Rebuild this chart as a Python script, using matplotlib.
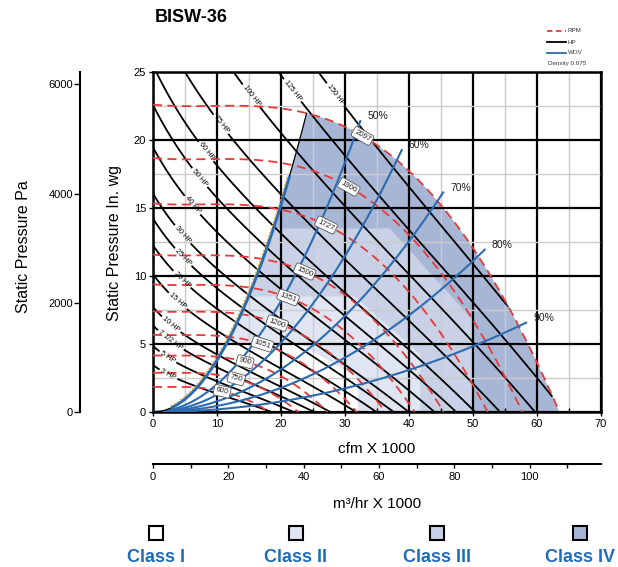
import numpy as np
import matplotlib.pyplot as plt
from matplotlib.lines import Line2D
from matplotlib.patches import Rectangle

plt.rcParams['font.family'] = ['Liberation Sans', 'DejaVu Sans']

# ---- data ----
rpm_values = [2097, 1906, 1727, 1500, 1351, 1200, 1051, 900, 750, 600]
rpm_label_pos = [(33.1, 20.6), (30.8, 16.7), (27.2, 13.9), (24.0, 10.7), (21.4, 8.75),
                 (19.4, 6.5), (17.2, 5.1), (14.4, 3.8), (13.1, 2.6), (10.8, 1.5)]

hp_values = [3, 5, 7.5, 10, 15, 20, 25, 30, 40, 50, 60, 75, 100, 125, 150]
hp_labels = ['3 HP', '5 HP', '7 1/2 HP', '10 HP', '15 HP', '20 HP', '25 HP', '30 HP',
             '40 HP', '50 HP', '60 HP', '75 HP', '100 HP', '125 HP', '150 HP']
hp_label_pos = [(2.2, 2.6), (2.3, 4.0), (3.0, 5.4), (3.4, 6.8), (3.9, 8.2), (4.5, 9.7),
                (5.0, 11.5), (5.5, 13.4), (6.6, 15.4), (7.7, 17.4), (8.6, 19.3),
                (10.8, 21.25), (15.2, 23.2), (21.4, 23.5), (28.7, 23.4)]

wov_values = [50, 60, 70, 80, 90]

# outer curve (2097 rpm): cfm x1000 vs in. wg, and bhp along it
base_cfm = [0, 10, 20, 25, 30, 35, 40, 45, 50, 55, 60, 63.5]
base_sp = [22.6, 22.55, 22.2, 21.9, 21.1, 19.5, 17.8, 15.1, 12.1, 8.2, 3.6, 0.0]
base_bhp = [50, 80, 110, 125, 140, 153, 159, 162, 160, 152, 136, 120]
surge_point = 24.0  # cfm x1000 on the outer curve where the left edge starts

# class limit points (cfm x1000, in. wg)
class_limits = {
    'III': [(37.0, 13.5), (50.0, 6.75)],
    'II': [(31.5, 8.5), (41.75, 4.25)],
    'I': [(23.0, 5.0), (32.0, 2.5)],
}
class_colors = {'I': '#ffffff', 'II': '#dfe5f1', 'III': '#c8d1e6', 'IV': '#a8b6d5'}

RED = '#e8383a'
BLUE = '#2b6cb0'

# ---- smooth fan curve model ----
c_sp = np.polyfit(base_cfm, base_sp, 5)
c_hp = np.polyfit(base_cfm, base_bhp, 5)
q_end = base_cfm[-1]
end_slope = np.polyval(np.polyder(c_sp), q_end)


def sp0(q):
    q = np.asarray(q, dtype=float)
    inside = np.polyval(c_sp, np.clip(q, 0, q_end))
    return np.where(q > q_end, end_slope * (q - q_end), inside)


def hp0(q):
    return np.polyval(c_hp, np.clip(q, 0, q_end))


Q = np.linspace(0, 70, 701)
P = np.linspace(0, 25, 501)
QQ, PP = np.meshgrid(Q, P)
lo = np.full_like(QQ, 1e-4)
hi = np.full_like(QQ, 2.0)
for _ in range(45):
    mid = 0.5 * (lo + hi)
    g = mid ** 2 * sp0(QQ / mid) - PP
    lo = np.where(g < 0, mid, lo)
    hi = np.where(g >= 0, mid, hi)
ratio = 0.5 * (lo + hi)
bhp = ratio ** 3 * hp0(QQ / ratio)
bhp[(ratio > 1.0) & (QQ > 33)] = np.nan

# ---- figure ----
fig = plt.figure(figsize=(6.18, 5.67), dpi=100)
W, H = 618, 567
ax = fig.add_axes([153 / W, 1 - 412 / H, 448 / W, 340 / H])
ax.set_xlim(0, 70)
ax.set_ylim(0, 25)

# class areas
ks = sp0(surge_point) / surge_point ** 2
t = np.linspace(0, 1, 80)
surge_q = t * surge_point
surge_p = ks * surge_q ** 2
qt = np.linspace(surge_point, q_end, 80)
env = list(zip(surge_q, surge_p)) + list(zip(qt, sp0(qt))) + [(0, 0)]
ax.fill(*zip(*env), color=class_colors['IV'], lw=0, zorder=0.1)
for name in ['III', 'II', 'I']:
    (q1, p1), (q2, p2) = class_limits[name]
    m = surge_p < p1
    poly = (list(zip(surge_q[m], surge_p[m])) + [(np.sqrt(p1 / ks), p1), (q1, p1), (q2, p2),
                                                 (q2, 0), (0, 0)])
    ax.fill(*zip(*poly), color=class_colors[name], lw=0, zorder=0.2)

# grid
ax.set_xticks(np.arange(0, 71, 10))
ax.set_yticks(np.arange(0, 26, 5))
ax.set_xticks(np.arange(5, 70, 5), minor=True)
ax.set_yticks(np.arange(2.5, 25, 2.5), minor=True)
ax.set_axisbelow(True)
ax.grid(which='minor', color='#cbcbcb', lw=1.0)
ax.grid(which='major', color='black', lw=1.6)

# rpm curves
rpm_levels = sorted(np.array(rpm_values) / rpm_values[0])
cs_rpm = ax.contour(QQ, PP, ratio, levels=rpm_levels, colors=RED, linewidths=1.3,
                    linestyles=[(0, (5, 3))], zorder=3)
# hp lines
cs_hp = ax.contour(QQ, PP, bhp, levels=hp_values, colors='black', linewidths=1.3, zorder=2.5)


def on_line(cs, level_index, xy):
    v = cs.get_paths()[level_index].vertices
    d = (v[:, 0] - xy[0]) ** 2 + ((v[:, 1] - xy[1]) * 2.1) ** 2
    return tuple(v[np.argmin(d)])


hp_pos = [on_line(cs_hp, i, p) for i, p in enumerate(hp_label_pos)]
txt = ax.clabel(cs_hp, manual=hp_pos, inline=True, inline_spacing=2, fontsize=5.2,
                fmt=dict(zip(cs_hp.levels, hp_labels)))

rpm_sorted = sorted(zip(np.array(rpm_values) / rpm_values[0], rpm_values, rpm_label_pos))
rpm_pos = [on_line(cs_rpm, i, r[2]) for i, r in enumerate(rpm_sorted)]
rtxt = ax.clabel(cs_rpm, manual=rpm_pos, inline=True, inline_spacing=3, fontsize=5.6,
                 fmt={lv: str(n) for lv, n, _ in rpm_sorted})
for tx in rtxt:
    tx.set_color('#222222')
    tx.set_bbox(dict(boxstyle='round,pad=0.25', fc='white', ec='#555555', lw=0.6))
    tx.set_zorder(6)

# wov lines
for p in wov_values:
    qp = p / 100 * q_end
    k = sp0(qp) / qp ** 2
    qq = np.linspace(0, qp * 1.02, 100)
    ax.plot(qq, k * qq ** 2, color=BLUE, lw=1.5, zorder=4)
    ax.text(qq[-1] + 1.1, k * qq[-1] ** 2 + 0.35, f'{p}%', fontsize=7.5, va='center',
            ha='left', color='#222222', zorder=6)

# left edge / surge line
ax.plot(surge_q, surge_p, color='black', lw=0.9, zorder=4)
m = (surge_q > 3) & (surge_q < 21.5)
ax.plot(surge_q[m], surge_p[m], color=BLUE, lw=2.2, zorder=4)
ax.plot(surge_q[m] - 0.25, surge_p[m] + 0.1, color='#f2a51f', lw=1.1,
        linestyle=(0, (1, 1.5)), zorder=4)

for s in ax.spines.values():
    s.set_linewidth(1.8)
ax.tick_params(which='major', direction='out', length=3, width=1, labelsize=8, pad=2)
ax.tick_params(which='minor', length=0)
ax.tick_params(axis='x', which='minor', direction='in', length=3, width=1)

# pa axis
axp = fig.add_axes([80 / W, 1 - 412 / H, 0.0001, 340 / H])
axp.set_ylim(0, 25 * 249.09)
axp.set_yticks([0, 2000, 4000, 6000])
axp.set_xticks([])
for k_ in ['top', 'right', 'bottom']:
    axp.spines[k_].set_visible(False)
axp.spines['left'].set_linewidth(1.5)
axp.tick_params(direction='out', length=4, width=1, labelsize=8, pad=1)
axp.patch.set_visible(False)

# m3/hr axis
axm = fig.add_axes([153 / W, 1 - 464 / H, 448 / W, 0.0001])
axm.set_xlim(0, 70 * 1.699)
axm.set_xticks(np.arange(0, 101, 20))
axm.set_xticks(np.arange(10, 119, 20), minor=True)
axm.set_yticks([])
for k_ in ['top', 'right', 'left']:
    axm.spines[k_].set_visible(False)
axm.spines['bottom'].set_linewidth(1.5)
axm.tick_params(which='both', direction='out', length=3, width=1, labelsize=8, pad=3)
axm.patch.set_visible(False)

fig.text(155 / W, 1 - 18 / H, 'BISW-36', fontsize=13, fontweight='bold', va='center')
fig.text(24 / W, 1 - 247 / H, 'Static Pressure Pa', rotation=90, fontsize=11.5,
         va='center', ha='center')
fig.text(114 / W, 1 - 243 / H, 'Static Pressure In. wg', rotation=90, fontsize=11.5,
         va='center', ha='center')
fig.text(377 / W, 1 - 449 / H, 'cfm X 1000', fontsize=11, ha='center', va='center')
fig.text(377 / W, 1 - 504 / H, 'm³/hr X 1000', fontsize=11, ha='center', va='center')

# small legend
leg_items = [('RPM', RED, (0, (3, 2))), ('HP', 'black', '-'), ('WOV', BLUE, '-')]
for i, (lab, col, ls) in enumerate(leg_items):
    yy = 1 - (31 + 11 * i) / H
    fig.add_artist(Line2D([547 / W, 566 / W], [yy, yy], color=col, lw=1.3, linestyle=ls))
    fig.text(568 / W, yy, lab, fontsize=4.5, va='center', color='#333333')
fig.text(548 / W, 1 - 63 / H, 'Density 0.075', fontsize=4.5, va='center', color='#333333')

# class legend
for name, xc in zip(['I', 'II', 'III', 'IV'], [156, 296, 437, 580]):
    fig.add_artist(Rectangle(((xc - 7) / W, 1 - 540 / H), 14 / W, 14 / H,
                             fc=class_colors[name], ec='black', lw=1.5))
    fig.text(xc / W, 1 - 558 / H, f'Class {name}', fontsize=13, fontweight='bold',
             color='#1f6db8', ha='center', va='center')

fig.savefig('out.png', dpi=100)
